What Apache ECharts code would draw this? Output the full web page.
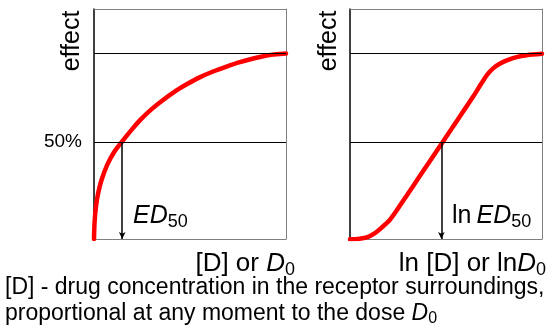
<!DOCTYPE html>
<html>
<head>
<meta charset="utf-8">
<script src="https://cdn.jsdelivr.net/npm/echarts@6/dist/echarts.min.js"></script>
<style>
html,body{margin:0;padding:0;background:#fff;}
#c{width:553px;height:331px;}
</style>
</head>
<body>
<div id="c"></div>
<script>
// ---- data ----
var linDose   = [0, 0.3, 1.0, 2.2, 4.0, 7.0, 10.5, 14.7, 20, 24, 30, 35.3, 42, 48.3, 55, 62, 69, 76, 83, 90, 95, 100];
var linEffect = [-0.045, 0.05, 0.135, 0.215, 0.29, 0.375, 0.445, 0.505, 0.575, 0.624, 0.686, 0.732, 0.785, 0.826, 0.865, 0.898, 0.926, 0.951, 0.971, 0.988, 0.995, 0.999];
var logDose   = [0, 4, 8.7, 13, 17, 20.7, 24.2, 30, 36, 42, 47.6, 53, 59, 64, 68.4, 71.9, 75, 78, 82, 86.7, 92, 100];
var logEffect = [-0.047, -0.045, -0.036, -0.012, 0.024, 0.062, 0.114, 0.207, 0.304, 0.40, 0.49, 0.577, 0.674, 0.754, 0.83, 0.886, 0.92, 0.942, 0.962, 0.979, 0.99, 0.998];
var refLevels = [0.5, 1.0];
var ed50Lin = 14.7;
var ed50Log = 47.6;
var yMin = -0.045, yMax = 1.25;

var FONT = 'Liberation Sans, Arial, sans-serif';

function pairs(xs, ys){ return xs.map(function(x,i){ return [x, ys[i]]; }); }

function refLines(withLabel, ed){
  var d = refLevels.map(function(v){
    return {yAxis: v, label: {show: withLabel && v === 0.5, formatter: '50%', position: 'start',
      distance: 12, color: '#000', fontSize: 19, fontFamily: FONT}};
  });
  d.push([
    {coord: [ed, 0.5], symbol: 'none', lineStyle: {width: 1.5}},
    {coord: [ed, yMin], symbol: 'arrow', symbolSize: [5, 7]}
  ]);
  return {
    silent: true, symbol: ['none', 'none'],
    lineStyle: {color: '#000', width: 1, type: 'solid'},
    label: {show: false},
    data: d
  };
}

var chart = echarts.init(document.getElementById('c'), null, {renderer: 'canvas'});
var grids = [
  {left: 94, top: 9, width: 192, height: 230},
  {left: 350, top: 9, width: 192, height: 230}
];
function xa(i, pos){ return {gridIndex: i, type: 'value', position: pos, min: 0, max: 100, axisLabel: {show: false}, axisTick: {show: false},
  splitLine: {show: false}, axisLine: {show: true, onZero: false, lineStyle: {color: '#808080', width: 1}}}; }
function ya(i, pos, col, w){ return {gridIndex: i, type: 'value', position: pos, min: yMin, max: yMax, axisLabel: {show: false}, axisTick: {show: false},
  splitLine: {show: false}, axisLine: {show: true, onZero: false, lineStyle: {color: col, width: w}}}; }

function rich(main, sub){
  return {
    n: {fontSize: main, fontFamily: FONT, lineHeight: main + 4, verticalAlign: 'middle'},
    i: {fontSize: main, fontStyle: 'italic', fontFamily: FONT, lineHeight: main + 4, verticalAlign: 'middle'},
    s: {fontSize: sub, fontFamily: FONT, lineHeight: Math.round(main * 0.45), verticalAlign: 'bottom'}
  };
}

chart.setOption({
  animation: false,
  grid: grids,
  xAxis: [xa(0, 'bottom'), xa(1, 'bottom'), xa(0, 'top'), xa(1, 'top')],
  yAxis: [ya(0, 'left', '#000', 1.5), ya(1, 'left', '#000', 1.5), ya(0, 'right', '#808080', 1), ya(1, 'right', '#808080', 1)],
  series: [
    {type: 'line', xAxisIndex: 0, yAxisIndex: 0, data: pairs(linDose, linEffect), smooth: 0.3,
      showSymbol: false, lineStyle: {color: '#ff0000', width: 4.5, cap: 'round'}, z: 3,
      markLine: refLines(true, ed50Lin)},
    {type: 'line', xAxisIndex: 1, yAxisIndex: 1, data: pairs(logDose, logEffect), smooth: 0.3,
      showSymbol: false, lineStyle: {color: '#ff0000', width: 4.5, cap: 'round'}, z: 3,
      markLine: refLines(false, ed50Log)}
  ],
  graphic: [
    {type: 'text', x: 72, y: 41, rotation: Math.PI / 2,
      style: {text: 'effect', font: '25px ' + FONT, fill: '#000', align: 'center', verticalAlign: 'middle'}},
    {type: 'text', x: 329, y: 41, rotation: Math.PI / 2,
      style: {text: 'effect', font: '25px ' + FONT, fill: '#000', align: 'center', verticalAlign: 'middle'}},
    {type: 'text', x: 133, y: 202,
      style: {text: '{i|ED}{s|50}', fill: '#000', rich: rich(25, 18)}},
    {type: 'text', x: 452, y: 202,
      style: {text: '{n|ln\u2009}{i|ED}{s|50}', fill: '#000', rich: rich(25, 18)}},
    {type: 'text', x: 295, y: 249,
      style: {text: '{n|[D] or }{i|D}{s|0}', fill: '#000', align: 'right', rich: rich(26, 18)}},
    {type: 'text', x: 546, y: 249,
      style: {text: '{n|ln [D] or ln}{i|D}{s|0}', fill: '#000', align: 'right', rich: rich(26, 18)}},
    {type: 'text', x: 5, y: 288,
      style: {text: '[D] - drug concentration in the receptor surroundings,', font: '23px ' + FONT, fill: '#000', verticalAlign: 'middle'}},
    {type: 'text', x: 5, y: 300,
      style: {text: '{n|proportional at any moment to the dose }{i|D}{s|0}', fill: '#000', rich: rich(23, 16)}}
  ]
});
</script>
</body>
</html>
